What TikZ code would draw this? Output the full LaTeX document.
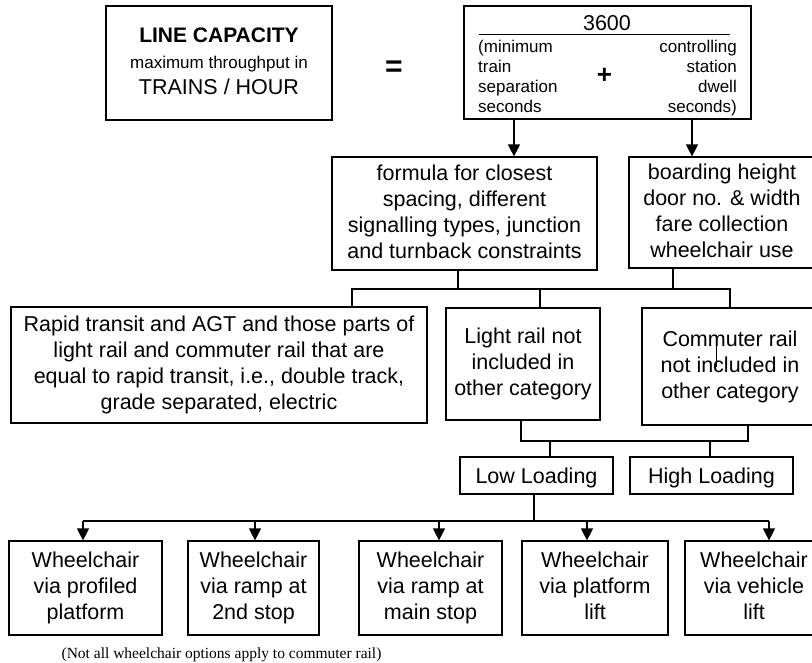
\documentclass[tikz,border=0pt]{standalone}
\usepackage{fontspec}
\setmainfont{Liberation Sans}
\newfontfamily\notefont{Liberation Serif}
\usetikzlibrary{arrows.meta,calc}

\tikzset{
  box/.style={draw, line width=1.2pt, inner sep=0pt, align=center,
    font=\fontsize{21.5}{26}\selectfont,
    execute at begin node=\rule{0pt}{21pt}, execute at end node=\vphantom{Ag}},
  small/.style={inner sep=0pt, font=\fontsize{17}{20}\selectfont,
    execute at begin node=\vphantom{(g}, execute at end node=\vphantom{(g}},
  link/.style={line width=1.2pt},
  arr/.style={line width=1.2pt, -{Triangle[length=12pt,width=12pt]}},
}

\begin{document}
\begin{tikzpicture}[x=1pt, y=-1pt]
  \useasboundingbox (0,0) rectangle (812,662);

  % Capacity = formula
  \node[box, minimum width=226pt, minimum height=114pt] (cap) at (219,63)
    {{\bfseries\fontsize{21}{25}\selectfont LINE CAPACITY}\\
     {\fontsize{17}{25}\selectfont maximum throughput in}\\
     TRAINS / HOUR};
  \node[font=\bfseries\fontsize{30}{30}\selectfont, inner sep=0pt] (eq) at (394,68.5) {=};
  \node[box, minimum width=287pt, minimum height=113pt] (frm) at (607.5,62.5) {};
  \node[inner sep=0pt, font=\fontsize{21.5}{25}\selectfont] (num) at (607,23) {3600};
  \draw[line width=1pt] (479,34) -- (730,34);
  \node[small, anchor=west, align=left] (lcol) at (478,78)
    {(minimum\\train\\separation\\seconds};
  \node[small, anchor=east, align=right] (rcol) at (737,78)
    {controlling\\station\\dwell\\seconds)};
  \node[font=\bfseries\fontsize{26}{26}\selectfont, inner sep=0pt] (plus) at (604.5,75.5) {+};

  % Second row
  \node[box, minimum width=265pt, minimum height=113pt] (fcl) at (464.5,213.5)
    {formula for closest\\spacing, different\\signalling types, junction\\and turnback constraints};
  \node[box, minimum width=186pt, minimum height=111pt] (brd) at (722,212.5)
    {boarding height\\door no. \& width\\fare collection\\wheelchair use};
  \draw[arr] ([xshift=-93.5pt]frm.south) -- ([xshift=-93.5pt]frm.south |- fcl.north);
  \draw[arr] ([xshift=84.5pt]frm.south) -- ([xshift=84.5pt]frm.south |- brd.north);

  % Categories
  \node[box, minimum width=416pt, minimum height=116pt] (rap) at (219,365)
    {Rapid transit and AGT and those parts of\\light rail and commuter rail that are\\
     equal to rapid transit, i.e., double track,\\grade separated, electric};
  \node[box, minimum width=154pt, minimum height=112pt] (lig) at (523,364)
    {Light rail not\\included in\\other category};
  \node[box, minimum width=176pt, minimum height=117pt] (com) at (730,366.5)
    {Commuter rail\\not included in\\other category};
  \draw[line width=1pt] (716,345) -- (716,367);

  \coordinate (bus1) at (0,289);
  \draw[link] ([xshift=-6.5pt]fcl.south) -- ([xshift=-6.5pt]fcl.south |- bus1);
  \draw[link] ([xshift=-49pt]brd.south) -- ([xshift=-49pt]brd.south |- bus1);
  \draw[link] ([xshift=133pt]rap.north) |- (bus1 -| com.north) -- (com.north);
  \draw[link] ([xshift=17pt]lig.north) -- ([xshift=17pt]lig.north |- bus1);

  % Loading
  \node[box, minimum width=153pt, minimum height=37pt] (low) at (536.5,475.5) {Low Loading};
  \node[box, minimum width=163pt, minimum height=37pt] (hig) at (711.5,475.5) {High Loading};

  \coordinate (bus2) at (0,441);
  \draw[link] ([xshift=-2pt]lig.south) |- ([xshift=18pt]com.south |- bus2) -- ([xshift=18pt]com.south);
  \draw[link] ([xshift=13.5pt]low.north) -- ([xshift=13.5pt]low.north |- bus2);
  \draw[link] ([xshift=-1.5pt]hig.north) -- ([xshift=-1.5pt]hig.north |- bus2);

  % Wheelchair options
  \node[box, minimum width=153pt, minimum height=94pt] (wc1) at (85.5,588)
    {Wheelchair\\via profiled\\platform};
  \node[box, minimum width=131pt, minimum height=94pt] (wc2) at (253.5,588)
    {Wheelchair\\via ramp at\\2nd stop};
  \node[box, minimum width=143pt, minimum height=94pt] (wc3) at (430.5,588)
    {Wheelchair\\via ramp at\\main stop};
  \node[box, minimum width=146pt, minimum height=94pt] (wc4) at (595,588)
    {Wheelchair\\via platform\\lift};
  \node[box, minimum width=138pt, minimum height=94pt] (wc5) at (754,588)
    {Wheelchair\\via vehicle\\lift};

  \coordinate (bus3) at (0,521);
  \draw[link] ([xshift=-2.5pt]low.south) -- ([xshift=-2.5pt]low.south |- bus3);
  \draw[link] ([xshift=-2.5pt]wc1.north |- bus3) -- ([xshift=15pt]wc5.north |- bus3);
  \foreach \n/\dx in {wc1/-2.5, wc2/1.5, wc3/8.5, wc4/-8, wc5/15}
    \draw[arr] ([xshift=\dx pt]\n.north |- bus3) -- ([xshift=\dx pt]\n.north);

  \node[inner sep=0pt, font=\notefont\fontsize{15.5}{18}\selectfont] (note) at (221.5,655)
    {(Not all wheelchair options apply to commuter rail)};
\end{tikzpicture}
\end{document}
